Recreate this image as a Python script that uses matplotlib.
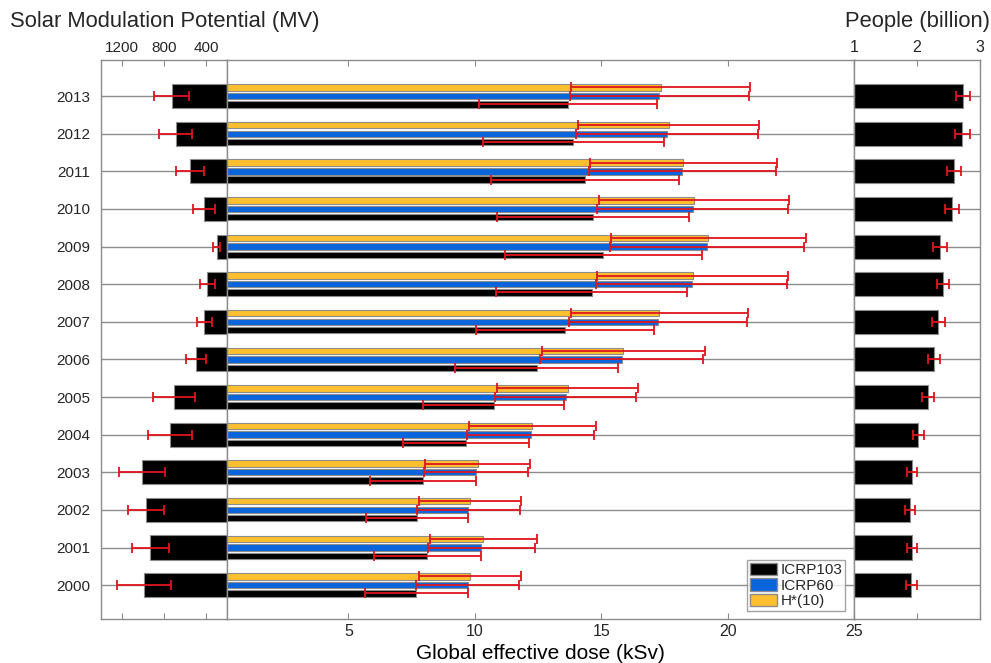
import numpy as np
import matplotlib
matplotlib.use('Agg')
import matplotlib.pyplot as plt
from matplotlib.patches import Patch

plt.rcParams['font.family'] = ['Liberation Sans', 'DejaVu Sans']
plt.rcParams['text.color'] = '#262626'
plt.rcParams['xtick.color'] = '#262626'
plt.rcParams['ytick.color'] = '#262626'

years = np.arange(2000, 2014)

# solar modulation potential (MV), 2000..2013
smp = [988, 930, 971, 1010, 743, 705, 498, 416, 388, 298, 419, 552, 689, 725]
smp_err = [255, 176, 171, 219, 210, 199, 97, 70, 70, 35, 105, 133, 156, 167]

# global effective dose (kSv)
icrp103 = [7.69, 8.13, 7.72, 7.96, 9.66, 10.75, 12.45, 13.57, 14.62, 15.09, 14.67, 14.36, 13.90, 13.68]
icrp103_err = [2.03, 2.12, 2.01, 2.09, 2.50, 2.78, 3.23, 3.51, 3.78, 3.88, 3.79, 3.71, 3.58, 3.52]
icrp60 = [9.72, 10.26, 9.75, 10.05, 12.21, 13.60, 15.81, 17.24, 18.58, 19.19, 18.62, 18.20, 17.60, 17.30]
icrp60_err = [2.03, 2.12, 2.02, 2.07, 2.50, 2.79, 3.23, 3.52, 3.77, 3.84, 3.78, 3.70, 3.59, 3.53]
hstar10 = [9.80, 10.34, 9.81, 10.12, 12.28, 13.68, 15.88, 17.30, 18.62, 19.24, 18.67, 18.25, 17.67, 17.35]
hstar10_err = [2.02, 2.11, 2.02, 2.07, 2.50, 2.79, 3.23, 3.50, 3.78, 3.86, 3.77, 3.69, 3.58, 3.53]

# people (billion)
people = [1.91, 1.92, 1.89, 1.92, 2.02, 2.18, 2.27, 2.34, 2.41, 2.365, 2.55, 2.59, 2.72, 2.735]
people_err = [0.09, 0.085, 0.08, 0.08, 0.085, 0.095, 0.10, 0.10, 0.10, 0.105, 0.11, 0.11, 0.116, 0.113]

C_BLACK = '#000000'
C_BLUE = '#0a64dc'
C_YELLOW = '#fdbf2d'
C_RED = '#e0141e'
C_EDGE = '#8c8c8c'

W, H = 991, 663
fig = plt.figure(figsize=(W / 100, H / 100), dpi=100)

top, bot = 60, 619
def box(x0, x1):
    return [x0 / W, 1 - bot / H, (x1 - x0) / W, (bot - top) / H]

axL = fig.add_axes(box(101, 227))
axM = fig.add_axes(box(227, 854))
axR = fig.add_axes(box(854, 980))

yl = (1999.1, 2013.96)
err_kw = dict(fmt='none', ecolor=C_RED, elinewidth=1.3, capsize=3.3, capthick=1.3, zorder=4)

for ax in (axL, axM, axR):
    ax.set_ylim(*yl)
    ax.set_yticks(years)
    ax.yaxis.grid(True, color='#8c8c8c', linewidth=1)
    ax.set_axisbelow(True)
    ax.tick_params(axis='y', length=0)
    for s in ax.spines.values():
        s.set_color(C_EDGE)
        s.set_linewidth(1)
    ax.tick_params(axis='x', direction='in', length=4, color=C_EDGE, labelsize=11.5)

# left: solar modulation
axL.barh(years, np.array(smp) - 200, left=200, height=0.64, color=C_BLACK,
         edgecolor=C_EDGE, linewidth=0.8, zorder=2)
axL.errorbar(smp, years, xerr=smp_err, **err_kw)
axL.set_xlim(1400, 200)
axL.set_xticks([1200, 800, 400])
axL.tick_params(axis='x', top=True, bottom=True, labeltop=True, labelbottom=False, labelsize=11)
axL.set_yticklabels([str(y) for y in years], fontsize=11)
axL.tick_params(axis='y', pad=8)

# middle: dose
off = [(-0.22, icrp103, icrp103_err, C_BLACK),
       (0.0, icrp60, icrp60_err, C_BLUE),
       (0.23, hstar10, hstar10_err, C_YELLOW)]
for d, v, e, c in off:
    axM.barh(years + d, v, height=0.17, color=c, edgecolor=C_EDGE, linewidth=0.8, zorder=2)
    axM.errorbar(v, years + d, xerr=e, **err_kw)
axM.set_xlim(0.2, 25)
axM.set_xticks([5, 10, 15, 20, 25])
axM.tick_params(axis='x', top=True, bottom=True)
axM.set_yticklabels([])
axM.set_xlabel('Global effective dose (kSv)', fontsize=15, labelpad=4)

handles = [Patch(facecolor=C_BLACK, edgecolor=C_EDGE, label='ICRP103'),
           Patch(facecolor=C_BLUE, edgecolor=C_EDGE, label='ICRP60'),
           Patch(facecolor=C_YELLOW, edgecolor=C_EDGE, label='H*(10)')]
leg = axM.legend(handles=handles, loc='lower right', bbox_to_anchor=(0.986, 0.014),
                 fontsize=11, frameon=True, fancybox=False, handlelength=1.8,
                 handleheight=0.9, handletextpad=0.2, labelspacing=0.05,
                 borderpad=0.2, borderaxespad=0.0)
leg.get_frame().set_edgecolor(C_EDGE)
leg.get_frame().set_linewidth(1)

# right: people
axR.barh(years, np.array(people) - 1, left=1, height=0.64, color=C_BLACK,
         edgecolor=C_EDGE, linewidth=0.8, zorder=2)
axR.errorbar(people, years, xerr=people_err, **err_kw)
axR.set_xlim(1, 3)
axR.set_xticks([1, 2, 3])
axR.tick_params(axis='x', top=True, bottom=True, labeltop=True, labelbottom=False)
axR.set_yticklabels([])

fig.text(10 / W, 1 - 22 / H, 'Solar Modulation Potential (MV)', fontsize=15.8, va='center', ha='left')
fig.text(845 / W, 1 - 22 / H, 'People (billion)', fontsize=15.8, va='center', ha='left')

fig.savefig('out.png', dpi=100)
